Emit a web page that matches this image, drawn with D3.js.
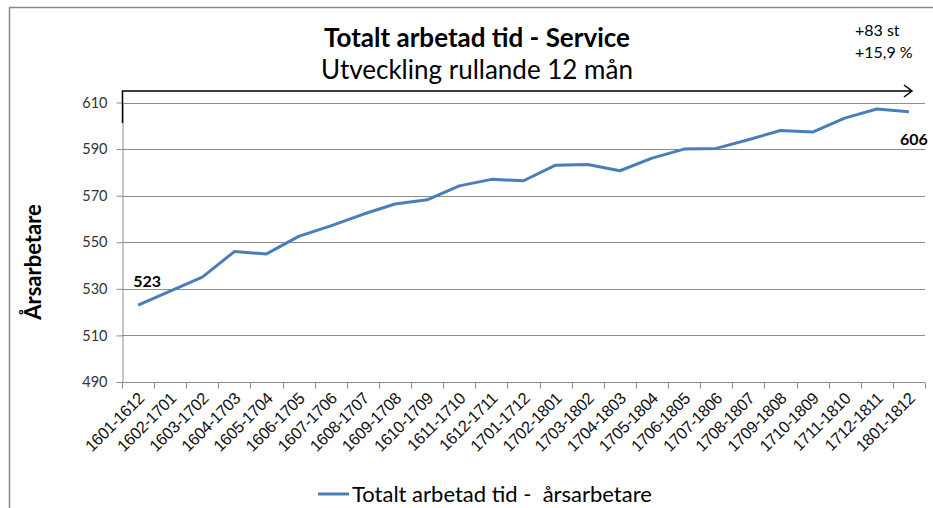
<!DOCTYPE html>
<html>
<head>
<meta charset="utf-8">
<script src="https://cdn.jsdelivr.net/npm/d3@7"></script>
<style>
  html, body { margin: 0; padding: 0; background: #fff; }
  svg { display: block; }
</style>
</head>
<body>
<svg id="chart" width="933" height="508"></svg>
<script>
// Rolling 12-month periods
const periods = [
  "1601-1612", "1602-1701", "1603-1702", "1604-1703", "1605-1704",
  "1606-1705", "1607-1706", "1608-1707", "1609-1708", "1610-1709",
  "1611-1710", "1612-1711", "1701-1712", "1702-1801", "1703-1802",
  "1704-1803", "1705-1804", "1706-1805", "1707-1806", "1708-1807",
  "1709-1808", "1710-1809", "1711-1810", "1712-1811", "1801-1812"
];

// Total worked time, full-time equivalents
const arsarbetare = [
  523, 529, 535, 546, 545, 552.5, 557, 562, 566.4, 568.2,
  574.2, 577, 576.4, 583.1, 583.4, 580.7, 586.1, 590, 590.3, 594,
  598, 597.3, 603.3, 607.2, 606
];

const yTicks = [490, 510, 530, 550, 570, 590, 610];
const seriesName = "Totalt arbetad tid -  årsarbetare";
const titleText = "Totalt arbetad tid - Service";
const subtitleText = "Utveckling rullande 12 mån";
const changeNotes = ["+83 st", "+15,9 %"];

const svg = d3.select("#chart");
const calibri = "Lato, 'Open Sans', sans-serif";
const arial = "'Liberation Sans', Arial, sans-serif";

// frame
svg.append("rect")
  .attr("x", 9.5).attr("y", 7.5)
  .attr("width", 940).attr("height", 520)
  .attr("fill", "none").attr("stroke", "#8a8a8a").attr("stroke-width", 1.5);

const plot = { left: 122, right: 925, top: 102.5, bottom: 382 };

const x = d3.scaleBand().domain(periods).range([plot.left, plot.right]).paddingInner(0).paddingOuter(0);
const y = d3.scaleLinear().domain([490, 610]).range([plot.bottom, plot.top]);
const cx = d => x(d) + x.bandwidth() / 2;

// horizontal gridlines
svg.append("g")
  .selectAll("line")
  .data(yTicks.filter(t => t > 490))
  .join("line")
  .attr("x1", plot.left).attr("x2", plot.right)
  .attr("y1", d => Math.round(y(d)) + 0.5).attr("y2", d => Math.round(y(d)) + 0.5)
  .attr("stroke", "#8c8c8c").attr("stroke-width", 1);

// y axis
const yAxis = svg.append("g")
  .attr("transform", `translate(${plot.left + 0.5},0)`)
  .call(d3.axisLeft(y).tickValues(yTicks).tickSize(6).tickPadding(9).tickSizeOuter(0));
yAxis.select(".domain").attr("stroke", "#8c8c8c");
yAxis.selectAll(".tick line").attr("stroke", "#8c8c8c");
yAxis.selectAll(".tick text")
  .attr("font-family", calibri).attr("font-size", 14.5).attr("fill", "#333");

// x axis, ticks on category boundaries
const xAxisG = svg.append("g").attr("transform", `translate(0,${Math.round(plot.bottom) + 0.5})`);
xAxisG.append("line")
  .attr("x1", plot.left).attr("x2", plot.right)
  .attr("stroke", "#8c8c8c");
xAxisG.selectAll("line.tk")
  .data(periods.concat(["end"]))
  .join("line").attr("class", "tk")
  .attr("x1", (d, i) => Math.round(plot.left + i * x.bandwidth()) + 0.5)
  .attr("x2", (d, i) => Math.round(plot.left + i * x.bandwidth()) + 0.5)
  .attr("y1", 0).attr("y2", 6)
  .attr("stroke", "#8c8c8c");
xAxisG.selectAll("text")
  .data(periods)
  .join("text")
  .attr("transform", d => `translate(${cx(d) + 3},${13}) rotate(-45)`)
  .attr("text-anchor", "end")
  .attr("dy", "0.35em")
  .attr("font-family", arial).attr("font-size", 16.5).attr("fill", "#111")
  .attr("letter-spacing", -0.4)
  .text(d => d);

// series line
const line = d3.line()
  .x((d, i) => cx(periods[i]))
  .y(d => y(d));
svg.append("path")
  .datum(arsarbetare)
  .attr("d", line)
  .attr("fill", "none")
  .attr("stroke", "#4a7ebb")
  .attr("stroke-width", 3)
  .attr("stroke-linejoin", "round");

// first / last value labels
const firstV = arsarbetare[0], lastV = arsarbetare[arsarbetare.length - 1];
svg.append("text")
  .attr("x", cx(periods[0]) + 9).attr("y", y(firstV) - 18)
  .attr("text-anchor", "middle")
  .attr("font-family", calibri).attr("font-weight", "bold").attr("font-size", 16)
  .text(d3.format(".0f")(firstV));
svg.append("text")
  .attr("x", cx(periods[periods.length - 1]) + 5).attr("y", y(lastV) + 33)
  .attr("text-anchor", "middle")
  .attr("font-family", calibri).attr("font-weight", "bold").attr("font-size", 16)
  .text(d3.format(".0f")(lastV));

// trend arrow above the plot
svg.append("path")
  .attr("d", `M${plot.left + 0.5},123 V91 H912`)
  .attr("fill", "none").attr("stroke", "#000").attr("stroke-width", 1.5);
svg.append("path")
  .attr("d", "M904,85 L912,91 L904,97")
  .attr("fill", "none").attr("stroke", "#000").attr("stroke-width", 1.5);

// titles
svg.append("text")
  .attr("x", 477).attr("y", 47)
  .attr("text-anchor", "middle")
  .attr("font-family", calibri).attr("font-weight", "bold").attr("font-size", 26)
  .text(titleText);
svg.append("text")
  .attr("x", 477).attr("y", 79)
  .attr("text-anchor", "middle")
  .attr("font-family", calibri).attr("font-size", 26)
  .text(subtitleText);

// change notes, top right
svg.selectAll("text.note")
  .data(changeNotes)
  .join("text").attr("class", "note")
  .attr("x", 855).attr("y", (d, i) => 36 + i * 22)
  .attr("font-family", calibri).attr("font-size", 16)
  .text(d => d);

// y axis title
svg.append("text")
  .attr("transform", "translate(41,262) rotate(-90)")
  .attr("text-anchor", "middle")
  .attr("font-family", calibri).attr("font-weight", "bold").attr("font-size", 22)
  .text("Årsarbetare");

// legend
const lg = svg.append("g").attr("transform", "translate(318,494)");
lg.append("line").attr("x1", 0).attr("x2", 31).attr("y1", 0).attr("y2", 0)
  .attr("stroke", "#4a7ebb").attr("stroke-width", 3);
lg.append("text")
  .attr("x", 34).attr("y", 0).attr("dy", "0.35em")
  .attr("font-family", calibri).attr("font-size", 22)
  .attr("xml:space", "preserve")
  .style("white-space", "pre")
  .text(seriesName);
</script>
</body>
</html>
